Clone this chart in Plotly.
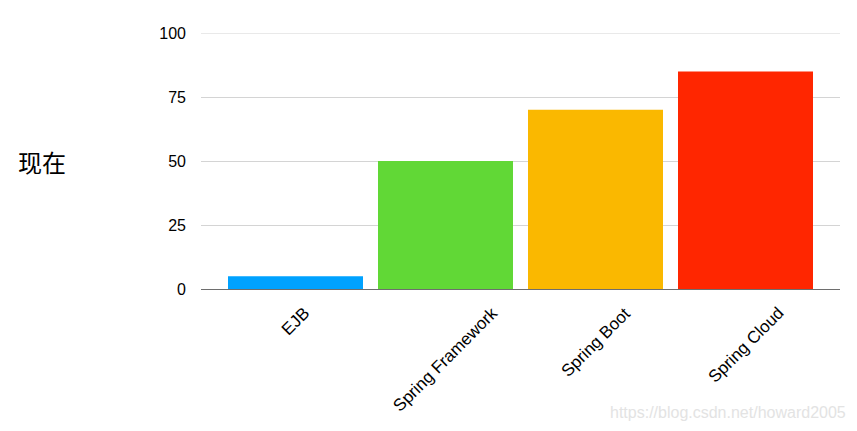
import plotly.graph_objects as go

categories = ["EJB", "Spring Framework", "Spring Boot", "Spring Cloud"]
values = [5, 50, 70, 85]
colors = ["#00A2FF", "#61D836", "#FAB800", "#FF2600"]
y_ticks = [0, 25, 50, 75, 100]
y_title = "现在"
watermark = "https://blog.csdn.net/howard2005"

fig = go.Figure(go.Bar(
    x=categories, y=values, marker=dict(color=colors, line=dict(width=0)),
))

# page body has an 8px margin, so the figure is 8px smaller than the window
fig.update_layout(
    width=849, height=423,
    margin=dict(l=193, r=17, t=25, b=142, autoexpand=False),
    plot_bgcolor="white", paper_bgcolor="white",
    bargap=0.1, showlegend=False,
    font=dict(family="Liberation Sans, Arial, sans-serif", size=16, color="#000"),
)
fig.update_xaxes(
    range=[-0.63, 3.63], showgrid=False, automargin=False, showticklabels=False,
    showline=True, linecolor="#6e6e6e", linewidth=1, ticks="",
)
fig.update_yaxes(
    range=[0, 100], tickvals=y_ticks, showgrid=True, gridcolor="#d4d4d4",
    gridwidth=1, zeroline=False, ticks="", ticklabelstandoff=14, automargin=False,
    tickfont=dict(size=16),
)
fig.add_shape(
    type="line", xref="paper", yref="y", x0=0, x1=1, y0=y_ticks[-1], y1=y_ticks[-1],
    line=dict(color="#d4d4d4", width=1), layer="below",
)
# category labels: rotated, centred under each category
for cat in categories:
    fig.add_annotation(
        text=cat, xref="x", yref="paper", x=cat, y=0, yshift=-12,
        xanchor="center", yanchor="top", textangle=-45, showarrow=False,
        font=dict(size=17, color="#000"),
    )
fig.add_annotation(
    text=y_title, xref="paper", yref="paper", x=-0.249, y=0.5,
    xanchor="center", yanchor="middle", showarrow=False,
    font=dict(size=24, family="Noto Sans CJK SC", color="#000"),
)
fig.add_annotation(
    text=watermark, xref="paper", yref="paper", x=1.0125, y=-0.484,
    xanchor="right", yanchor="middle", showarrow=False,
    font=dict(size=16, color="#e3e3e3"),
)
fig.write_html("out.html")
